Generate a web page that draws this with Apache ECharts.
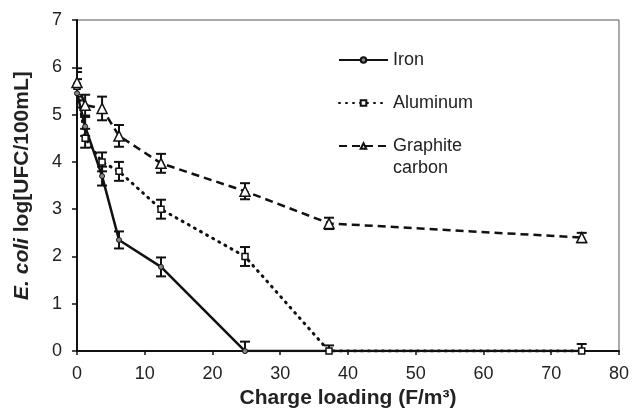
<!DOCTYPE html>
<html>
<head>
<meta charset="utf-8">
<script src="https://cdn.jsdelivr.net/npm/echarts@6/dist/echarts.min.js"></script>
<style>
  html, body { margin: 0; padding: 0; background: #fff; }
  #chart { width: 632px; height: 414px; }
</style>
</head>
<body>
<div id="chart"></div>
<script>
// Charge loading (F/m3) for every sample
const chargeLoading = [0, 1.2, 3.7, 6.2, 12.4, 24.8, 37.2, 74.5];

// E. coli log[UFC/100mL] per electrode
const ironValues = [5.45, 4.75, 3.7, 2.35, 1.78, 0, 0, 0];
const ironErrors = [0.3, 0.2, 0.2, 0.18, 0.2, 0.2, 0, 0];

const aluminumValues = [5.6, 4.5, 4.0, 3.8, 3.0, 2.0, 0, 0];
const aluminumErrors = [0.3, 0.2, 0.2, 0.2, 0.2, 0.2, 0.12, 0.15];

const graphiteValues = [5.68, 5.2, 5.13, 4.55, 3.97, 3.38, 2.7, 2.4];
const graphiteErrors = [0.3, 0.22, 0.25, 0.23, 0.2, 0.17, 0.12, 0.1];

const font = 'Liberation Sans, Arial, sans-serif';

function pairs(values) {
    return chargeLoading.map((x, i) => [x, values[i]]);
}

function errorData(values, errors) {
    return chargeLoading.map((x, i) => [x, values[i] - errors[i], values[i] + errors[i]]);
}

// Error bars with caps
function renderErrorBar(params, api) {
    const x = api.value(0);
    const low = api.coord([x, api.value(1)]);
    const high = api.coord([x, api.value(2)]);
    if (Math.abs(high[1] - low[1]) < 1) return null;
    const half = 5;
    const style = { stroke: '#111', lineWidth: 2 };
    return {
        type: 'group',
        children: [
            { type: 'line', shape: { x1: low[0], y1: low[1], x2: high[0], y2: high[1] }, style: style },
            { type: 'line', shape: { x1: low[0] - half, y1: low[1], x2: low[0] + half, y2: low[1] }, style: style },
            { type: 'line', shape: { x1: high[0] - half, y1: high[1], x2: high[0] + half, y2: high[1] }, style: style }
        ]
    };
}

function errorSeries(values, errors) {
    return {
        type: 'custom',
        renderItem: renderErrorBar,
        data: errorData(values, errors),
        encode: { x: 0, y: [1, 2] },
        clip: true,
        silent: true,
        z: 3
    };
}

const chart = echarts.init(document.getElementById('chart'));

const legendBase = {
    left: 333,
    orient: 'vertical',
    itemWidth: 49,
    itemHeight: 7,
    textStyle: { fontFamily: font, fontSize: 18, color: '#222', lineHeight: 22 },
    selectedMode: false
};

const option = {
    animation: false,
    backgroundColor: '#fff',
    grid: {
        left: 77,
        right: 12,
        top: 20,
        bottom: 62,
        show: true,
        borderColor: '#555',
        borderWidth: 1
    },
    legend: [
        Object.assign({}, legendBase, { top: 44, data: ['Iron'] }),
        Object.assign({}, legendBase, { top: 87, data: ['Aluminum'] }),
        Object.assign({}, legendBase, {
            top: 108,
            data: ['Graphite carbon'],
            formatter: () => ' \nGraphite\ncarbon'
        })
    ],
    xAxis: {
        type: 'value',
        min: 0,
        max: 80,
        interval: 10,
        name: 'Charge loading (F/m\u00b3)',
        nameLocation: 'middle',
        nameGap: 30,
        nameTextStyle: { fontFamily: font, fontSize: 21, fontWeight: 'bold', color: '#222' },
        axisLine: { lineStyle: { color: '#111', width: 2 } },
        axisTick: { length: 4, lineStyle: { color: '#111', width: 1.5 } },
        axisLabel: { fontFamily: font, fontSize: 18, color: '#222', margin: 14 },
        splitLine: { show: false }
    },
    yAxis: {
        type: 'value',
        min: 0,
        max: 7,
        interval: 1,
        name: '{i|E. coli} log[UFC/100mL]',
        nameLocation: 'middle',
        nameGap: 44,
        nameTextStyle: {
            fontFamily: font, fontSize: 21, fontWeight: 'bold', color: '#222',
            rich: {
                i: { fontFamily: font, fontSize: 21, fontWeight: 'bold', fontStyle: 'italic', color: '#222' }
            }
        },
        axisLine: { show: true, lineStyle: { color: '#111', width: 2 } },
        axisTick: { show: true, length: 5, lineStyle: { color: '#111', width: 1.5 } },
        axisLabel: { fontFamily: font, fontSize: 18, color: '#222', margin: 15 },
        splitLine: { show: false }
    },
    series: [
        {
            name: 'Iron',
            type: 'line',
            data: pairs(ironValues),
            symbol: 'circle',
            symbolSize: 5,
            itemStyle: { color: '#888', borderColor: '#111', borderWidth: 1 },
            lineStyle: { color: '#111', width: 2.5, type: 'solid' },
            z: 4
        },
        {
            name: 'Aluminum',
            type: 'line',
            data: pairs(aluminumValues),
            symbol: 'rect',
            symbolSize: 6,
            itemStyle: { color: '#fff', borderColor: '#111', borderWidth: 1.5 },
            lineStyle: { color: '#111', width: 3, type: [1, 6], cap: 'round' },
            z: 4
        },
        {
            name: 'Graphite carbon',
            type: 'line',
            data: pairs(graphiteValues),
            symbol: 'triangle',
            symbolSize: 10,
            itemStyle: { color: '#fff', borderColor: '#111', borderWidth: 1.5 },
            lineStyle: { color: '#111', width: 2.5, type: [8, 5] },
            z: 4
        },
        errorSeries(ironValues, ironErrors),
        errorSeries(aluminumValues, aluminumErrors),
        errorSeries(graphiteValues, graphiteErrors)
    ]
};

chart.setOption(option);
</script>
</body>
</html>
